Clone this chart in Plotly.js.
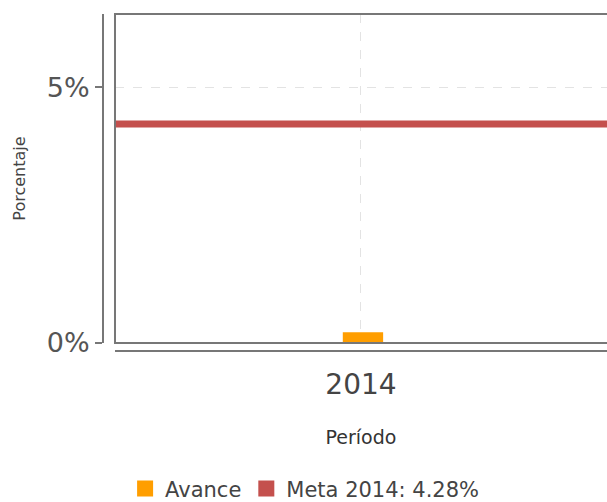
<!DOCTYPE html>
<html>
<head>
<meta charset="utf-8">
<script src="https://cdn.plot.ly/plotly-3.0.1.min.js"></script>
<style>html,body{margin:0;padding:0;background:#fff;}</style>
</head>
<body>
<div id="chart" style="width:607px;height:502px;"></div>
<script>
var categories = ['2014'];
var avanceValues = [0.21];
var metaValue = 4.28;
var metaLabel = 'Meta 2014: 4.28%';
var yTicks = [0, 5];

var catPos = categories.map(function(c, i){ return i; });
var avanceColor = '#FF9E00';
var metaColor = '#C4504D';

var traces = [
  {
    type: 'bar', name: 'Avance', x: catPos, y: avanceValues, showlegend: false,
    width: 0.082, offset: -0.037, marker: {color: avanceColor}, hoverinfo: 'y'
  },
  {
    type: 'scatter', mode: 'lines', name: metaLabel, showlegend: false,
    x: [catPos[0] - 0.5, catPos[catPos.length - 1] + 0.5],
    y: [metaValue, metaValue],
    line: {color: metaColor, width: 7}
  },
  {
    type: 'scatter', mode: 'markers', name: 'Avance', x: catPos, y: [null],
    marker: {color: avanceColor, symbol: 'square', size: 16}
  },
  {
    type: 'scatter', mode: 'markers', name: metaLabel, x: catPos, y: [null],
    marker: {color: metaColor, symbol: 'square', size: 16}
  }
];

var layout = {
  width: 607, height: 502,
  margin: {l: 103, r: 0, t: 14, b: 151},
  paper_bgcolor: '#fff', plot_bgcolor: '#fff',
  barmode: 'overlay',
  font: {family: 'DejaVu Sans, sans-serif', color: '#444'},
  showlegend: true,
  legend: {
    orientation: 'h', x: 0.4, xanchor: 'center',
    yref: 'container', y: 0.026, yanchor: 'middle',
    font: {size: 21, color: '#444'}, itemwidth: 30, traceorder: 'normal'
  },
  xaxis: {
    domain: [0.0238, 1],
    anchor: 'free', position: 0, automargin: false,
    range: [-0.5, 0.5],
    tickvals: catPos, ticktext: categories,
    showline: true, linecolor: '#777', linewidth: 2,
    showgrid: true, gridcolor: '#e3e3e3', griddash: 'dash', gridwidth: 1,
    zeroline: false, ticks: '', ticklabelstandoff: 8,
    tickfont: {size: 28, color: '#444'},
    title: {text: 'Período', font: {size: 19, color: '#333'}, standoff: 30},
    fixedrange: true
  },
  yaxis: {
    domain: [0.0237, 1],
    anchor: 'free', position: 0, automargin: false,
    range: [0, 6.43],
    tickvals: yTicks, ticktext: yTicks.map(function(v){ return v + '%'; }),
    showline: true, linecolor: '#777', linewidth: 2,
    ticks: 'outside', ticklen: 7, tickcolor: '#777', tickwidth: 2,
    showgrid: true, gridcolor: '#e3e3e3', griddash: 'dash', gridwidth: 1,
    zeroline: false,
    tickfont: {size: 27, color: '#555'},
    title: {text: 'Porcentaje', font: {size: 16, color: '#444'}, standoff: 16},
    fixedrange: true
  },
  shapes: [
    {type: 'rect', xref: 'paper', yref: 'paper', x0: 0.0238, x1: 1.02, y0: 0.0237, y1: 1,
     line: {color: '#777', width: 2}, layer: 'above'}
  ]
};

Plotly.newPlot('chart', traces, layout, {displayModeBar: false, staticPlot: true});
</script>
</body>
</html>
